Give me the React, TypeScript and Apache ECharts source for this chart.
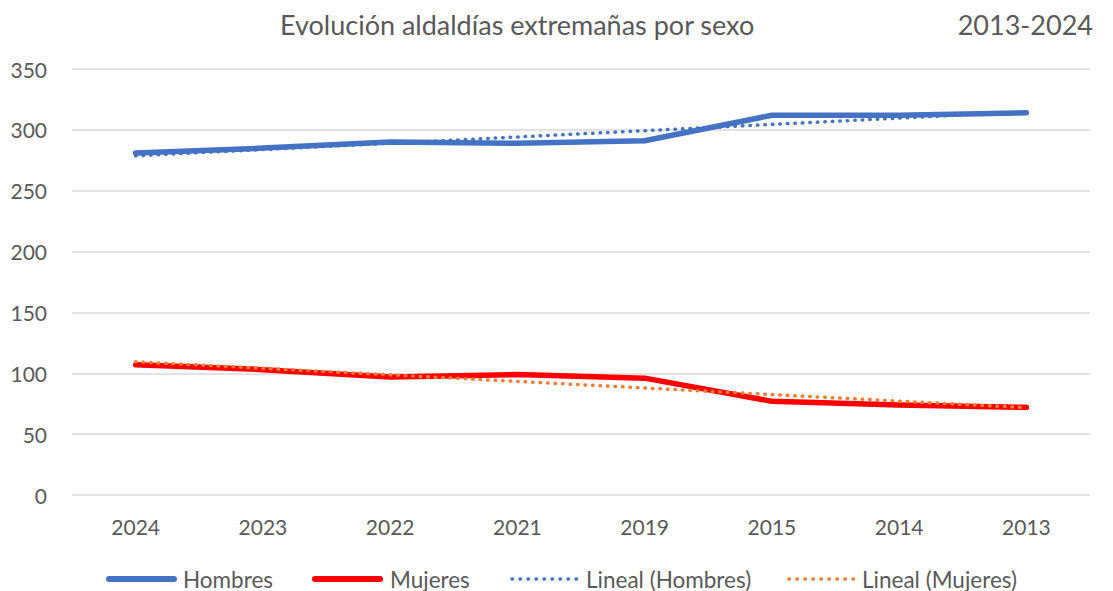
import React, { useEffect, useRef } from "react";
import * as echarts from "echarts";

const categories = ["2024", "2023", "2022", "2021", "2019", "2015", "2014", "2013"];
const hombres = [281, 285, 290, 289, 291, 312, 312, 314];
const mujeres = [107, 103, 97, 99, 96, 77, 74, 72];
const yTicks = [0, 50, 100, 150, 200, 250, 300, 350];

const titleText = "Evolución aldaldías extremañas por sexo";
const periodText = "2013-2024";
const legendNames = ["Hombres", "Mujeres", "Lineal (Hombres)", "Lineal (Mujeres)"];
const legendColors = ["#4472C4", "#FF0000", "#4472C4", "#ED7D31"];
const legendDotted = [false, false, true, true];

function linearTrend(values: number[]): number[] {
  const n = values.length;
  const xs = values.map((_, i) => i + 1);
  const mx = xs.reduce((a, b) => a + b, 0) / n;
  const my = values.reduce((a, b) => a + b, 0) / n;
  let sxy = 0;
  let sxx = 0;
  for (let i = 0; i < n; i++) {
    sxy += (xs[i] - mx) * (values[i] - my);
    sxx += (xs[i] - mx) * (xs[i] - mx);
  }
  const slope = sxy / sxx;
  return xs.map((x) => +(my + slope * (x - mx)).toFixed(2));
}

const FONT = "Lato, 'Noto Sans', sans-serif";
const TXT = "#595959";

export default function App() {
  const ref = useRef<HTMLDivElement>(null);
  useEffect(() => {
    document.body.style.margin = "0";
    if (!ref.current) return;
    const chart = echarts.init(ref.current, undefined, { renderer: "svg" });
    const dotted = { type: [0.5, 7] as number[], cap: "round" as const, width: 3.5 };

    const legendIconX = [106, 312, 509, 786];
    const legendTextX = [183, 390, 586, 862];
    const legendY = 579;
    const legendGraphics: any[] = [];
    legendNames.forEach((name, i) => {
      legendGraphics.push({
        type: "line",
        shape: { x1: legendIconX[i] + 3, y1: legendY, x2: legendIconX[i] + 68, y2: legendY },
        style: legendDotted[i]
          ? { stroke: legendColors[i], lineWidth: 3.5, lineDash: [0.5, 7.5], lineCap: "round" }
          : { stroke: legendColors[i], lineWidth: 6, lineCap: "round" },
      });
      legendGraphics.push({
        type: "text",
        x: legendTextX[i],
        y: legendY,
        style: {
          text: name,
          fontSize: 22.5,
          fill: TXT,
          fontFamily: FONT,
          verticalAlign: "middle",
        },
      });
    });

    chart.setOption({
      animation: false,
      backgroundColor: "#ffffff",
      textStyle: { fontFamily: FONT },
      graphic: [
        {
          type: "text",
          x: 280,
          y: 24,
          style: { text: titleText, fontSize: 27, fill: TXT, fontFamily: FONT, verticalAlign: "middle" },
        },
        {
          type: "text",
          x: 1093,
          y: 24,
          style: {
            text: periodText,
            fontSize: 27,
            fill: TXT,
            fontFamily: FONT,
            align: "right",
            verticalAlign: "middle",
          },
        },
        ...legendGraphics,
      ],
      grid: { left: 72, right: 23, top: 69, bottom: 96 },
      xAxis: {
        type: "category",
        data: categories,
        boundaryGap: true,
        axisLine: { show: false },
        axisTick: { show: false },
        axisLabel: { color: TXT, fontSize: 21, margin: 21, fontFamily: FONT },
      },
      yAxis: {
        type: "value",
        min: yTicks[0],
        max: yTicks[yTicks.length - 1],
        interval: 50,
        axisLine: { show: false },
        axisTick: { show: false },
        splitLine: { lineStyle: { color: "#d9d9d9", width: 1.5 } },
        axisLabel: { color: TXT, fontSize: 21, margin: 25, fontFamily: FONT },
      },
      series: [
        {
          name: "Hombres",
          type: "line",
          data: hombres,
          symbol: "none",
          lineStyle: { color: "#4472C4", width: 5.5, cap: "round", join: "round" },
          itemStyle: { color: "#4472C4" },
          z: 2,
        },
        {
          name: "Mujeres",
          type: "line",
          data: mujeres,
          symbol: "none",
          lineStyle: { color: "#FF0000", width: 5.5, cap: "round", join: "round" },
          itemStyle: { color: "#FF0000" },
          z: 2,
        },
        {
          name: "Lineal (Hombres)",
          type: "line",
          data: linearTrend(hombres),
          symbol: "none",
          lineStyle: { ...dotted, color: "#4472C4" },
          itemStyle: { color: "#4472C4" },
          z: 3,
        },
        {
          name: "Lineal (Mujeres)",
          type: "line",
          data: linearTrend(mujeres),
          symbol: "none",
          lineStyle: { ...dotted, color: "#ED7D31" },
          itemStyle: { color: "#ED7D31" },
          z: 3,
        },
      ],
    });
    return () => chart.dispose();
  }, []);
  return <div ref={ref} style={{ width: 1113, height: 591 }} />;
}
